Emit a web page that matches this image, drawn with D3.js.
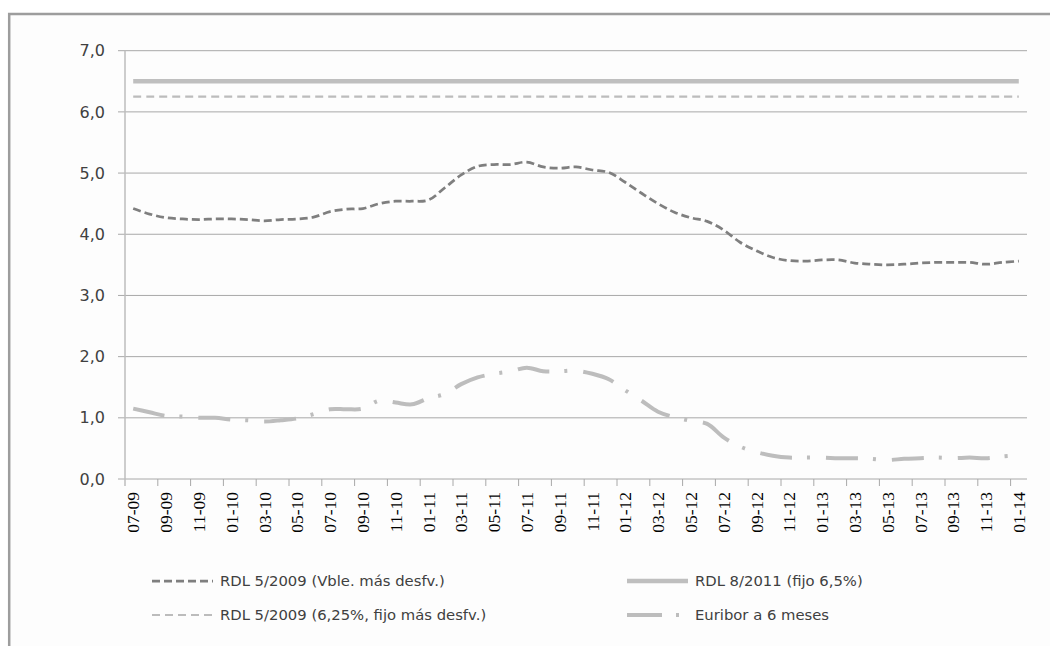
<!DOCTYPE html>
<html>
<head>
<meta charset="utf-8">
<script src="https://cdn.jsdelivr.net/npm/d3@7"></script>
<style>
  body { margin: 0; background: #ffffff; }
</style>
</head>
<body>
<div id="chart"></div>
<script>
// months (mm-yy), one point per month
var months = ["07-09","08-09","09-09","10-09","11-09","12-09",
  "01-10","02-10","03-10","04-10","05-10","06-10","07-10","08-10","09-10","10-10","11-10","12-10",
  "01-11","02-11","03-11","04-11","05-11","06-11","07-11","08-11","09-11","10-11","11-11","12-11",
  "01-12","02-12","03-12","04-12","05-12","06-12","07-12","08-12","09-12","10-12","11-12","12-12",
  "01-13","02-13","03-13","04-13","05-13","06-13","07-13","08-13","09-13","10-13","11-13","12-13",
  "01-14"];

// RDL 5/2009 (Vble. más desfv.)
var vble = [4.42,4.33,4.27,4.25,4.24,4.25,
  4.25,4.24,4.22,4.24,4.25,4.28,4.37,4.41,4.42,4.50,4.54,4.54,
  4.56,4.76,4.97,5.11,5.14,5.14,5.18,5.10,5.08,5.10,5.05,5.01,
  4.85,4.67,4.50,4.36,4.27,4.21,4.07,3.87,3.73,3.62,3.57,3.56,
  3.58,3.58,3.53,3.51,3.50,3.51,3.53,3.54,3.54,3.54,3.51,3.54,
  3.56];

// Euribor a 6 meses
var euribor = [1.15,1.09,1.03,1.02,1.00,1.00,
  0.97,0.96,0.94,0.96,0.99,1.06,1.14,1.14,1.15,1.28,1.25,1.22,
  1.32,1.39,1.55,1.66,1.72,1.76,1.82,1.76,1.76,1.77,1.72,1.63,
  1.45,1.28,1.10,1.01,0.95,0.90,0.68,0.53,0.44,0.38,0.35,0.35,
  0.35,0.34,0.34,0.33,0.31,0.33,0.34,0.35,0.34,0.35,0.34,0.37,
  0.39];

// fixed rates
var fijo65 = 6.5;
var fijo625 = 6.25;

var yTicks = [0,1,2,3,4,5,6,7];

var w = 1050;
var h = 646;
// plot area
var pLeft = 125, pRight = 1027, pTop = 50.7, pBottom = 479;

var svg = d3.select("#chart")
            .append("svg")
            .attr("width", w)
            .attr("height", h);

// outer frame
svg.append("rect")
   .attr("x", 9.2)
   .attr("y", 14)
   .attr("width", 1200)
   .attr("height", 800)
   .attr("fill", "#fdfdfd")
   .attr("stroke", "#9d9d9d")
   .attr("stroke-width", 2.5);

// scales
var xScale = d3.scaleBand()
               .domain(months)
               .range([pLeft, pRight])
               .padding(0);
var yScale = d3.scaleLinear()
               .domain([0, 7])
               .range([pBottom, pTop]);

function xc(i) { return xScale(months[i]) + xScale.bandwidth() / 2; }

// gridlines + y ticks
svg.append("g")
   .selectAll("line")
   .data(yTicks)
   .enter()
   .append("line")
   .attr("x1", pLeft - 7)
   .attr("x2", pRight)
   .attr("y1", function(d) { return yScale(d); })
   .attr("y2", function(d) { return yScale(d); })
   .attr("stroke", "#a8a8a8")
   .attr("stroke-width", 1);

// y axis labels
var yAxis = d3.axisLeft(yScale)
              .tickValues(yTicks)
              .tickSize(0)
              .tickPadding(20)
              .tickFormat(function(d) { return d.toFixed(1).replace(".", ","); });
var gy = svg.append("g")
   .attr("transform", "translate(" + pLeft + ",0)")
   .call(yAxis);
gy.select(".domain").remove();
gy.selectAll("text")
  .attr("font-family", "'DejaVu Sans', sans-serif")
  .attr("font-size", 16)
  .attr("fill", "#404040");

// y axis line
svg.append("line")
   .attr("x1", pLeft).attr("x2", pLeft)
   .attr("y1", pTop).attr("y2", pBottom + 7)
   .attr("stroke", "#bdbdbd")
   .attr("stroke-width", 1.5);

// x ticks at band edges every 2 months
var tickMonths = months.filter(function(d, i) { return i % 2 == 0; });
svg.append("g")
   .selectAll("line")
   .data(tickMonths.slice(1))
   .enter()
   .append("line")
   .attr("x1", function(d) { return xScale(d); })
   .attr("x2", function(d) { return xScale(d); })
   .attr("y1", pBottom)
   .attr("y2", pBottom + 7)
   .attr("stroke", "#a8a8a8")
   .attr("stroke-width", 1);

// x labels, rotated
var xAxis = d3.axisBottom(xScale)
              .tickValues(tickMonths)
              .tickSize(0)
              .tickPadding(0);
var gx = svg.append("g")
   .attr("transform", "translate(0," + pBottom + ")")
   .call(xAxis);
gx.select(".domain").remove();
gx.selectAll("text")
  .attr("font-family", "'Liberation Serif', 'Times New Roman', serif")
  .attr("font-size", 17.5)
  .attr("fill", "#000000")
  .attr("transform", "rotate(-90)")
  .attr("text-anchor", "end")
  .attr("x", -13)
  .attr("y", 0)
  .attr("dy", "0.35em");

// lines
var line = d3.line()
             .x(function(d, i) { return xc(i); })
             .y(function(d) { return yScale(d); })
             .curve(d3.curveCatmullRom.alpha(0.5));

svg.append("path")
   .datum(months.map(function() { return fijo65; }))
   .attr("d", line)
   .attr("fill", "none")
   .attr("stroke", "#bfbfbf")
   .attr("stroke-width", 4.5);

svg.append("path")
   .datum(months.map(function() { return fijo625; }))
   .attr("d", line)
   .attr("fill", "none")
   .attr("stroke", "#bcbcbc")
   .attr("stroke-width", 2.2)
   .attr("stroke-dasharray", "8,5");

svg.append("path")
   .datum(vble)
   .attr("d", line)
   .attr("fill", "none")
   .attr("stroke", "#7f7f7f")
   .attr("stroke-width", 2.75)
   .attr("stroke-dasharray", "8,4");

svg.append("path")
   .datum(euribor)
   .attr("d", line)
   .attr("fill", "none")
   .attr("stroke", "#bdbdbd")
   .attr("stroke-width", 4)
   .attr("stroke-dasharray", "32,15,3,16");

// legend
var keys = [
  {name: "RDL 5/2009 (Vble. más desfv.)", x: 152, y: 581, color: "#7f7f7f", width: 2.75, dash: "8,4"},
  {name: "RDL 8/2011 (fijo 6,5%)", x: 627, y: 581, color: "#bfbfbf", width: 4.5, dash: null},
  {name: "RDL 5/2009 (6,25%, fijo más desfv.)", x: 152, y: 615, color: "#bcbcbc", width: 2.2, dash: "8,5"},
  {name: "Euribor a 6 meses", x: 627, y: 615, color: "#bdbdbd", width: 4, dash: "35,14,3,30"}
];
var lg = svg.append("g");
lg.selectAll("line")
  .data(keys)
  .enter()
  .append("line")
  .attr("x1", function(d) { return d.x; })
  .attr("x2", function(d) { return d.x + 61; })
  .attr("y1", function(d) { return d.y; })
  .attr("y2", function(d) { return d.y; })
  .attr("stroke", function(d) { return d.color; })
  .attr("stroke-width", function(d) { return d.width; })
  .attr("stroke-dasharray", function(d) { return d.dash; });
lg.selectAll("text")
  .data(keys)
  .enter()
  .append("text")
  .attr("x", function(d) { return d.x + 68; })
  .attr("y", function(d) { return d.y; })
  .attr("dy", "0.35em")
  .attr("font-family", "'DejaVu Sans', sans-serif")
  .attr("font-size", 14.8)
  .attr("fill", "#404040")
  .text(function(d) { return d.name; });
</script>
</body>
</html>
